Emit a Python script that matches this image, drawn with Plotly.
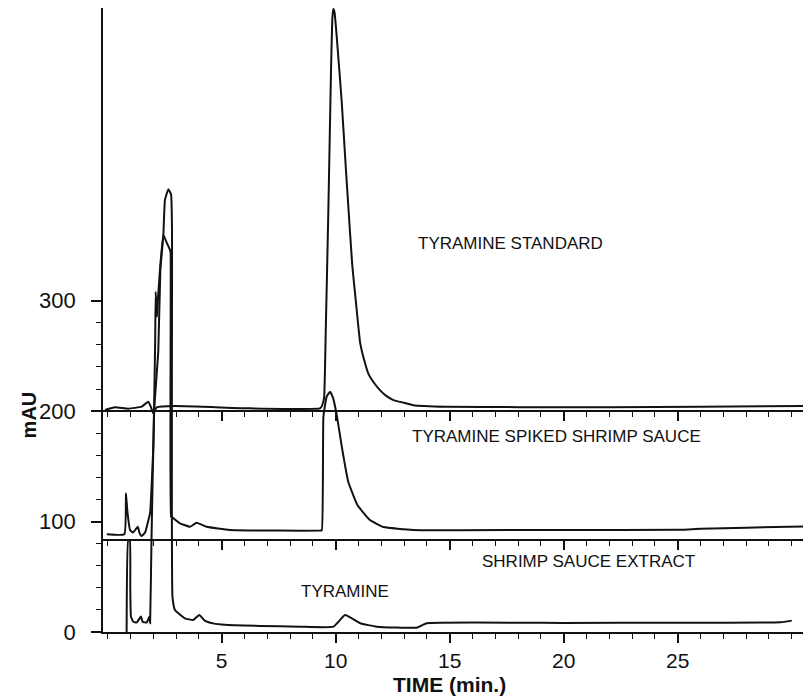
import plotly.graph_objects as go

# ---- data (time in min, absorbance in mAU, offsets included as plotted) ----
std_time = [-0.12, 0.32, 0.90, 1.49, 1.78, 1.90, 2.00, 2.15, 2.95, 6.24, 9.31, 9.40, 9.49,
            9.56, 9.68, 9.79, 9.85, 9.895, 9.95, 10.04, 10.26, 10.44, 10.63, 10.73, 10.88,
            11.07, 11.25, 11.43, 11.70, 11.94, 12.20, 12.53, 13.00, 13.40, 14.87, 18.0,
            22.0, 26.0, 30.6]
std_mau = [201, 203.4, 202.2, 204, 208.5, 203.4, 198, 203.4, 204.6, 202.5, 202.4, 205, 212,
           270, 385, 505, 555, 564, 561, 540, 481, 421, 361, 331, 300,
           262, 246, 234, 225, 219, 214, 210, 207.5, 205.4, 204, 203.6,
           203.6, 204, 204.6]

spk_time = [-0.04, 0.73, 0.80, 0.86, 0.98, 1.11, 1.32, 1.39, 1.49, 1.64, 1.77, 1.86, 2.00,
            2.08, 2.105, 2.16, 2.19, 2.30, 2.44, 2.60, 2.73, 2.76, 2.78, 2.82, 3.17,
            3.61, 3.90, 4.34, 5.36, 7.56, 9.31, 9.39, 9.46, 9.60, 9.75, 9.88, 10.04,
            10.28, 10.55, 10.95, 11.50, 12.10, 13.40, 20.0, 25.1, 26.0, 28.0, 30.6]
spk_mau = [88.5, 88.5, 125.6, 110, 92.4, 90, 95.3, 90, 86.9, 90, 100, 107.8, 167.8,
           260, 308, 285.5, 297.6, 330, 359.5, 352, 346, 343, 104.4, 104, 98.4,
           95.3, 99, 95.3, 92.4, 91.8, 91.8, 92, 195, 213, 217.6, 212, 197,
           166, 136, 115, 101.4, 95, 92.4, 92.4, 92.6, 93.5, 94.5, 95.5]

ext_time = [0.83, 0.90, 0.97, 0.99, 1.02, 1.12, 1.27, 1.46, 1.53, 1.71, 1.83, 1.86, 1.92,
            2.04, 2.22, 2.31, 2.44, 2.51, 2.66, 2.78, 2.82, 2.84, 2.95, 3.39, 3.75,
            4.02, 4.27, 4.62, 5.14, 6.68, 8.43, 9.90, 10.41, 11.07, 11.80, 13.55,
            13.99, 20.0, 25.0, 29.5, 30.0]
ext_mau = [0, 83, 83, 40, 13.9, 9.3, 8.5, 14, 9.3, 8.5, 14, 8, 83,
           201, 255, 328, 359, 391, 401, 396, 364, 32, 19.9, 12.4, 10.9,
           15.4, 10, 7.8, 6.5, 5.5, 4.8, 4.8, 15.4, 7.9, 4.8, 3.9,
           7.9, 8.2, 8.4, 8.8, 10.3]

# baselines of the stacked chromatograms (own time axes)
baseline_levels = [200, 83.3]

x_major = [5, 10, 15, 20, 25]
y_major = [0, 100, 200, 300]
y_minor = [20, 40, 60, 80, 120, 140, 160, 180, 220, 240, 260, 280]

labels = ["TYRAMINE STANDARD", "TYRAMINE SPIKED SHRIMP SAUCE",
          "SHRIMP SAUCE EXTRACT", "TYRAMINE"]
label_t = [17.67, 19.66, 21.07, 10.41]
label_v = [352.2, 176.6, 63.4, 37.1]

# ---- figure ----
INK = "#111111"
FONT = "Liberation Sans, Arial, Helvetica, sans-serif"
XR = [-0.206, 30.58]
YR = [0, 565]

fig = go.Figure()
for t, v in [(std_time, std_mau), (spk_time, spk_mau), (ext_time, ext_mau)]:
    fig.add_trace(go.Scatter(x=t, y=v, mode="lines",
                             line=dict(color=INK, width=2, shape="spline", smoothing=0.35),
                             showlegend=False, hoverinfo="skip", cliponaxis=False))

xcommon = dict(range=XR, showgrid=False, zeroline=False, showline=True, automargin=False,
               linecolor=INK, linewidth=1.6, ticks="outside", tickvals=x_major,
               ticklen=9, tickwidth=1.5, tickcolor=INK,
               minor=dict(ticks="outside", dtick=1, tick0=0, ticklen=5,
                          tickwidth=1.3, tickcolor=INK, showgrid=False))

# the page adds an 8 px body margin, so the figure is sized to fit inside it
fig.update_layout(
    width=803, height=689,
    margin=dict(l=95, r=6, t=0, b=65, autoexpand=False),
    paper_bgcolor="white", plot_bgcolor="white",
    font=dict(family=FONT, color=INK),
    xaxis=dict(**xcommon, ticktext=[str(v) for v in x_major], tickmode="array",
               tickfont=dict(size=21, family=FONT, color=INK)),
    yaxis=dict(range=YR, showgrid=False, zeroline=False, showline=True, automargin=False,
               linecolor=INK, linewidth=1.6, ticks="outside", tickmode="array",
               tickvals=y_major, ticklen=10, tickwidth=1.5, tickcolor=INK,
               ticklabelstandoff=11,
               tickfont=dict(size=22, family=FONT, color=INK),
               minor=dict(ticks="outside", tickmode="array", tickvals=y_minor,
                          ticklen=5, tickwidth=1.3, tickcolor=INK, showgrid=False)),
)

for i, lvl in enumerate(baseline_levels):
    name = "xaxis%d" % (i + 2)
    fig.update_layout(**{name: dict(**xcommon, overlaying="x", anchor="free",
                                    position=(lvl - YR[0]) / (YR[1] - YR[0]),
                                    showticklabels=False, side="bottom")})
    # invisible trace so that the extra axis is registered
    fig.add_trace(go.Scatter(x=[XR[0]], y=[lvl], xaxis="x%d" % (i + 2), mode="lines",
                             line=dict(width=0), showlegend=False, hoverinfo="skip"))

for txt, t, v in zip(labels, label_t, label_v):
    fig.add_annotation(x=t, y=v, xref="x", yref="y", text=txt, showarrow=False,
                       font=dict(size=17, family=FONT, color=INK),
                       xanchor="center", yanchor="middle")

fig.add_annotation(x=-0.124, y=197, xref="paper", yref="y", text="<b>mAU</b>",
                   textangle=-90, showarrow=False,
                   font=dict(size=20, family=FONT, color=INK))
fig.add_annotation(x=14.97, y=-0.084, xref="x", yref="paper", text="<b>TIME (min.)</b>",
                   showarrow=False, yanchor="middle",
                   font=dict(size=21, family=FONT, color=INK))

fig.write_html("out.html")
